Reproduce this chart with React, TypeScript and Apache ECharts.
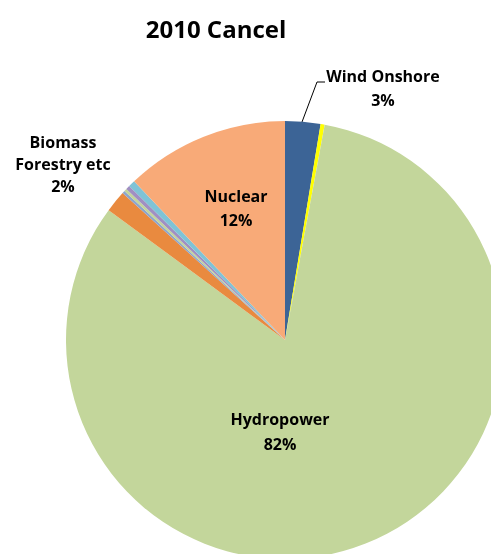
import React, { useEffect, useRef } from "react";
import * as echarts from "echarts";

const categories = [
  "Wind Onshore",
  "Solar",
  "Hydropower",
  "Biomass Forestry etc",
  "Other 1",
  "Other 2",
  "Other 3",
  "Other 4",
  "Nuclear",
];
const values = [2.6, 0.3, 82.2, 1.6, 0.2, 0.2, 0.3, 0.5, 12.1];
const labelTexts = ["Wind Onshore", "", "Hydropower", "Biomass\nForestry etc", "", "", "", "", "Nuclear"];
const colors = ["#3C6496", "#FFFF00", "#C3D69B", "#E98A3F", "#8EA5CB", "#C3D69B", "#A08FC2", "#7FC3D6", "#F8AA78"];

export default function App() {
  const ref = useRef<HTMLDivElement>(null);
  useEffect(() => {
    if (!ref.current) return;
    const chart = echarts.init(ref.current, undefined, { renderer: "svg" });
    const font = "'Open Sans', sans-serif";
    const labelPos: Record<number, any> = {
      0: { x: 383, y: 88, lineHeight: 24, line: [[302, 122], [317, 82], [325, 82]] },
      2: { x: 280, y: 431, lineHeight: 25 },
      3: { x: 63, y: 164, lineHeight: 22 },
      8: { x: 236, y: 208, lineHeight: 24 },
    };
    chart.setOption({
      animation: false,
      title: {
        text: "2010 Cancel",
        left: 211,
        top: 11,
        textAlign: "center",
        textStyle: { fontFamily: font, fontWeight: "bold", fontSize: 24, color: "#000" },
      },
      series: [
        {
          type: "pie",
          center: [285, 340],
          radius: 219,
          startAngle: 90,
          clockwise: true,
          avoidLabelOverlap: false,
          itemStyle: { borderWidth: 0 },
          emphasis: { disabled: true },
          data: categories.map((name, i) => {
            const lp = labelPos[i];
            return {
              name,
              value: values[i],
              itemStyle: { color: colors[i] },
              label: lp
                ? {
                    show: true,
                    position: i === 0 || i === 3 ? "outside" : "inside",
                    lineHeight: lp.lineHeight,
                  }
                : { show: false },
              labelLine: i === 0 ? { show: true, lineStyle: { color: "#000", width: 1 } } : { show: false },
            };
          }),
          label: {
            fontFamily: font,
            fontWeight: "bold",
            fontSize: 16,
            color: "#000",
            align: "center",
            formatter: (p: any) => labelTexts[p.dataIndex] + "\n" + Math.round(p.percent) + "%",
          },
          labelLayout: (p: any) => {
            const lp = labelPos[p.dataIndex];
            if (!lp) return {};
            const r: any = { x: lp.x, y: lp.y, align: "center", verticalAlign: "middle" };
            if (lp.line) r.labelLinePoints = lp.line;
            return r;
          },
        },
      ],
    });
    return () => chart.dispose();
  }, []);
  return <div ref={ref} style={{ position: "fixed", left: 0, top: 0, width: 491, height: 554 }} />;
}
